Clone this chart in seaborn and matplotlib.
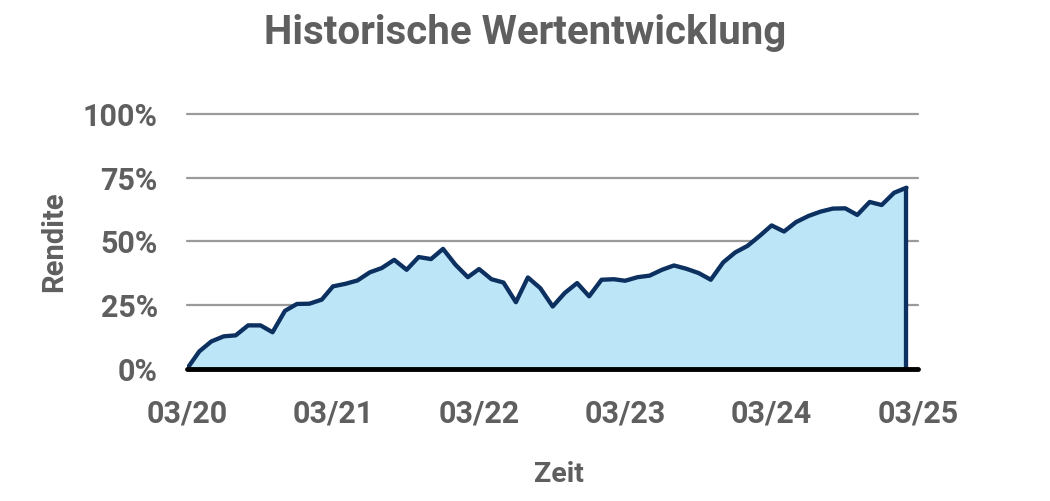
import numpy as np
import pandas as pd
import matplotlib
matplotlib.use("Agg")
import matplotlib.pyplot as plt
import matplotlib.dates as mdates
from matplotlib.ticker import FuncFormatter
import seaborn as sns

# 1. Data ---------------------------------------------------------------
# monthly return since 03/2020 in percent
rendite = [
    0.0, 6.9, 10.8, 12.8, 13.2, 17.1, 17.1, 14.4, 22.8, 25.5,
    25.6, 27.2, 32.4, 33.4, 34.7, 37.9, 39.6, 42.8, 38.9, 43.9,
    43.1, 47.1, 40.9, 36.0, 39.2, 35.2, 33.9, 26.2, 35.9, 31.7,
    24.5, 29.8, 33.7, 28.5, 35.0, 35.2, 34.6, 36.0, 36.6, 38.9,
    40.6, 39.3, 37.6, 35.0, 41.8, 45.7, 48.3, 52.3, 56.3, 53.9,
    57.6, 60.0, 61.7, 62.9, 63.0, 60.4, 65.5, 64.3, 69.1, 71.1,
]
start_month = "2020-03-01"
end_month = "2025-03-01"
y_ticks = [0, 25, 50, 75, 100]

title = "Historische Wertentwicklung"
x_label = "Zeit"
y_label = "Rendite"

df = pd.DataFrame(
    {
        "monat": pd.date_range(start_month, periods=len(rendite), freq="MS"),
        "rendite": rendite,
    }
)

# 2. Styling ------------------------------------------------------------
sns.set_style("white")
plt.rcParams["font.family"] = ["Roboto", "DejaVu Sans"]
plt.rcParams["font.weight"] = "bold"

text_color = "#5f5f5f"
line_color = "#0c3060"
fill_color = "#bce5f8"
grid_color = "#9a9a9a"

# 3. Plot ---------------------------------------------------------------
fig = plt.figure(figsize=(10.5, 5.01), dpi=100)
ax = fig.add_axes([0.178, 0.2635, 0.696, 0.509])

for t in y_ticks[1:]:
    ax.axhline(t, color=grid_color, lw=1.6, zorder=0, clip_on=False)

ax.fill_between(df["monat"], 0, df["rendite"], color=fill_color, lw=0, zorder=1)
sns.lineplot(
    data=df, x="monat", y="rendite", ax=ax, color=line_color, lw=3.1, zorder=3
)
# closing edge of the area at the last month
ax.vlines(df["monat"].iloc[-1], 0, df["rendite"].iloc[-1], color=line_color, lw=3.1, zorder=3)
ax.axhline(0, color="black", lw=3.5, zorder=4, clip_on=False)

ax.set_xlim(pd.Timestamp(start_month), pd.Timestamp(end_month))
ax.set_ylim(0, 100)
ax.set_yticks(y_ticks)
ax.yaxis.set_major_formatter(FuncFormatter(lambda v, p: f"{v:.0f}%"))
ax.xaxis.set_major_locator(mdates.MonthLocator(bymonth=3))
ax.xaxis.set_major_formatter(mdates.DateFormatter("%m/%y"))

for s in ax.spines.values():
    s.set_visible(False)
ax.tick_params(axis="both", length=0, labelsize=22, labelcolor=text_color)
ax.tick_params(axis="y", pad=21)
ax.tick_params(axis="x", pad=21)

ax.set_xlabel(x_label, fontsize=20.5, color=text_color, fontweight="bold")
ax.set_ylabel(y_label, fontsize=21, color=text_color, fontweight="bold")
ax.xaxis.set_label_coords(0.509, -0.36)
ax.yaxis.set_label_coords(-0.163, 0.5)

fig.text(0.5, 1 - 14 / 501, title, ha="center", va="top", fontsize=29,
         color=text_color, fontweight="bold")

plt.savefig("out.png", dpi=100)
